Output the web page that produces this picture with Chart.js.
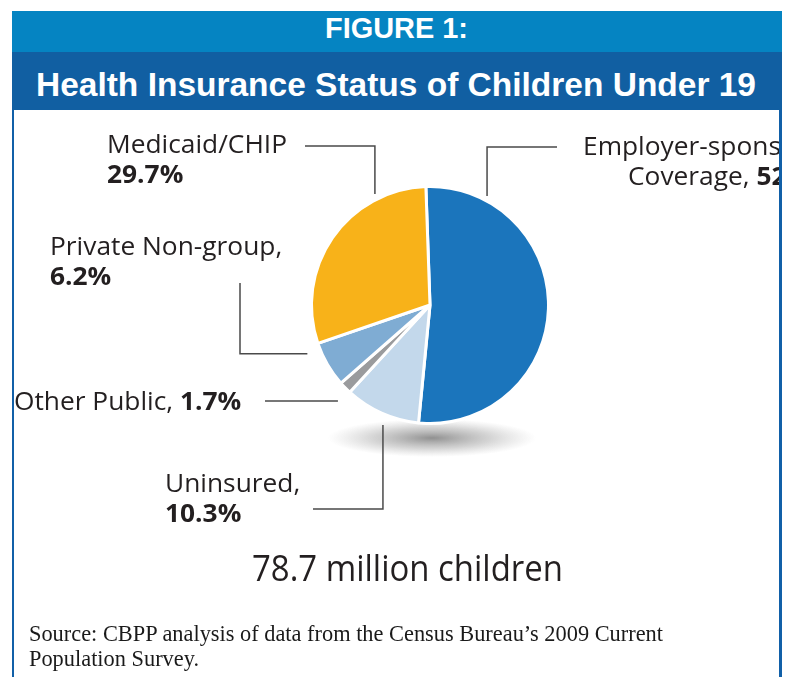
<!DOCTYPE html>
<html>
<head>
<meta charset="utf-8">
<script src="https://cdn.jsdelivr.net/npm/chart.js@4.4.1/dist/chart.umd.min.js"></script>
<style>
  html, body { margin: 0; padding: 0; background: #fff; }
  #page { position: relative; width: 785px; height: 677px; overflow: hidden; }
  .band { position: absolute; left: 12px; width: 770px; }
  #band1 { top: 11px; height: 41px; background: #0584c2; }
  #band2 { top: 52px; height: 58px; background: #115fa2; }
  .txt { position: absolute; white-space: nowrap; transform-origin: 0 0; display: inline-block; }
  #figNo { left: 325px; top: 14px; color: #fff; font: bold 29px/29px "Liberation Sans Narrow", "Liberation Sans", sans-serif; }
  #title { left: 36px; top: 68px; color: #fff; font: bold 33px/33px "Liberation Sans Narrow", "Liberation Sans", sans-serif; }
  #total { left: 252px; top: 550px; color: #231f20; font: 36px/36px "Open Sans", sans-serif; z-index: 4; }
  .src { left: 29px; color: #1a1a1a; font: 24px/25px "Liberation Serif", serif; z-index: 4; }
  #src1 { top: 621px; }
  #src2 { top: 646px; }
  #frameL { position: absolute; left: 12px; top: 110px; width: 2px; height: 567px; background: #1160a8; z-index: 5; }
  #frameR { position: absolute; left: 779px; top: 110px; width: 3px; height: 567px; background: #1160a8; z-index: 5; }
  #chartBox { position: absolute; left: 0; top: 0; width: 785px; height: 677px; z-index: 2; }
</style>
</head>
<body>
<div id="page">
  <div class="band" id="band1"></div>
  <div class="band" id="band2"></div>
  <span class="txt" id="figNo">FIGURE 1:</span>
  <span class="txt" id="title">Health Insurance Status of Children Under 19</span>
  <div id="chartBox"><canvas id="pie"></canvas></div>
  <span class="txt" id="total"></span>
  <span class="txt src" id="src1">Source: CBPP analysis of data from the Census Bureau’s 2009 Current</span>
  <span class="txt src" id="src2">Population Survey.</span>
  <div id="frameL"></div>
  <div id="frameR"></div>
</div>
<script>
// datos del gráfico
const categories = ['Employer-sponsored Coverage', 'Uninsured', 'Other Public', 'Private Non-group', 'Medicaid/CHIP'];
const shares = [52.1, 10.3, 1.7, 6.2, 29.7];
const sliceColors = ['#1b75bc', '#c3d8eb', '#9a9b9d', '#7facd3', '#f8b219'];
const totalLabel = '78.7 million children';

// dónde va cada etiqueta y su línea guía (solo posición/estilo)
const noteLayout = [
  { at: 0.158, gap: 4.5,  route: 'vh', x2: 557, y2: 147, xs: [583, 628], y: 155, text: 'split' },
  { at: 0.427, gap: 10.5, route: 'vh', x2: 313, y2: 509, xs: [165], y: 492, text: 'comma' },
  { at: 0.19,  gap: 14.5, route: 'h',  x2: 265,          xs: [14],  y: 410, text: 'inline' },
  { at: 0.875, gap: 13.5, route: 'hv', x2: 240, y2: 283, xs: [50],  y: 255, text: 'comma' },
  { at: 0.772, gap: 5.5,  route: 'vh', x2: 305, y2: 146, xs: [107], y: 153, text: 'plain' }
];

function noteLines(i) {
  const name = categories[i];
  const pct = shares[i].toFixed(1) + '%';
  const mode = noteLayout[i].text;
  if (mode === 'split') {
    const k = name.lastIndexOf(' ');
    return [[[name.slice(0, k), false]], [[name.slice(k + 1) + ', ', false], [pct, true]]];
  }
  if (mode === 'inline') return [[[name + ', ', false], [pct, true]]];
  if (mode === 'comma') return [[[name + ',', false]], [[pct, true]]];
  return [[[name, false]], [[pct, true]]];
}

const pieNotes = {
  id: 'pieNotes',
  beforeDatasetsDraw(chart) {
    // sombra bajo la torta
    const arc = chart.getDatasetMeta(0).data[0];
    const ctx = chart.ctx;
    const rx = 104, ry = 19;
    ctx.save();
    ctx.translate(arc.x + 2, arc.y + 133);
    ctx.scale(1, ry / rx);
    const g = ctx.createRadialGradient(0, 0, 0, 0, 0, rx);
    g.addColorStop(0, 'rgba(70,70,70,0.6)');
    g.addColorStop(0.55, 'rgba(110,110,110,0.3)');
    g.addColorStop(1, 'rgba(140,140,140,0)');
    ctx.fillStyle = g;
    ctx.beginPath();
    ctx.arc(0, 0, rx, 0, Math.PI * 2);
    ctx.fill();
    ctx.restore();
  },
  afterDatasetsDraw(chart) {
    const ctx = chart.ctx;
    const meta = chart.getDatasetMeta(0);
    ctx.save();
    ctx.beginPath();
    ctx.rect(0, 0, 779, chart.height);
    ctx.clip();

    ctx.font = '25px "Open Sans", sans-serif';
    const sx = 180 / ctx.measureText('Medicaid/CHIP').width;

    meta.data.forEach((arc, i) => {
      const lay = noteLayout[i];
      const a = arc.startAngle + lay.at * (arc.endAngle - arc.startAngle);
      const d = arc.outerRadius + lay.gap;
      const px = arc.x + d * Math.cos(a);
      const py = arc.y + d * Math.sin(a);

      ctx.strokeStyle = '#4a4a4a';
      ctx.lineWidth = 1.5;
      ctx.beginPath();
      ctx.moveTo(px, py);
      if (lay.route === 'vh') { ctx.lineTo(px, lay.y2); ctx.lineTo(lay.x2, lay.y2); }
      else if (lay.route === 'hv') { ctx.lineTo(lay.x2, py); ctx.lineTo(lay.x2, lay.y2); }
      else ctx.lineTo(lay.x2, py);
      ctx.stroke();

      ctx.fillStyle = '#231f20';
      ctx.textBaseline = 'alphabetic';
      ctx.textAlign = 'left';
      noteLines(i).forEach((runs, j) => {
        const x0 = lay.xs[j] !== undefined ? lay.xs[j] : lay.xs[0];
        ctx.save();
        ctx.translate(x0, lay.y + j * 30);
        ctx.scale(sx, 1);
        let cur = 0;
        runs.forEach(([t, bold]) => {
          ctx.font = (bold ? 'bold ' : '') + '25px "Open Sans", sans-serif';
          ctx.fillText(t, cur, 0);
          cur += ctx.measureText(t).width;
        });
        ctx.restore();
      });
    });
    ctx.restore();
  }
};

new Chart(document.getElementById('pie'), {
  type: 'pie',
  data: {
    labels: categories,
    datasets: [{
      data: shares,
      backgroundColor: sliceColors,
      borderColor: '#ffffff',
      borderWidth: 3
    }]
  },
  options: {
    responsive: true,
    maintainAspectRatio: false,
    animation: false,
    events: [],
    rotation: -2,
    layout: { padding: { left: 310, right: 235, top: 185, bottom: 252 } },
    plugins: { legend: { display: false }, tooltip: { enabled: false } }
  },
  plugins: [pieNotes]
});

// ajustar el ancho de los textos fijos
document.getElementById('total').textContent = totalLabel;
function fitWidth(id, w) {
  const el = document.getElementById(id);
  const r = el.getBoundingClientRect().width;
  el.style.transform = 'scaleX(' + (w / r) + ')';
  return w / r;
}
fitWidth('figNo', 143);
fitWidth('title', 720);
fitWidth('total', 311);
const s = fitWidth('src1', 634);
document.getElementById('src2').style.transform = 'scaleX(' + s + ')';
</script>
</body>
</html>
